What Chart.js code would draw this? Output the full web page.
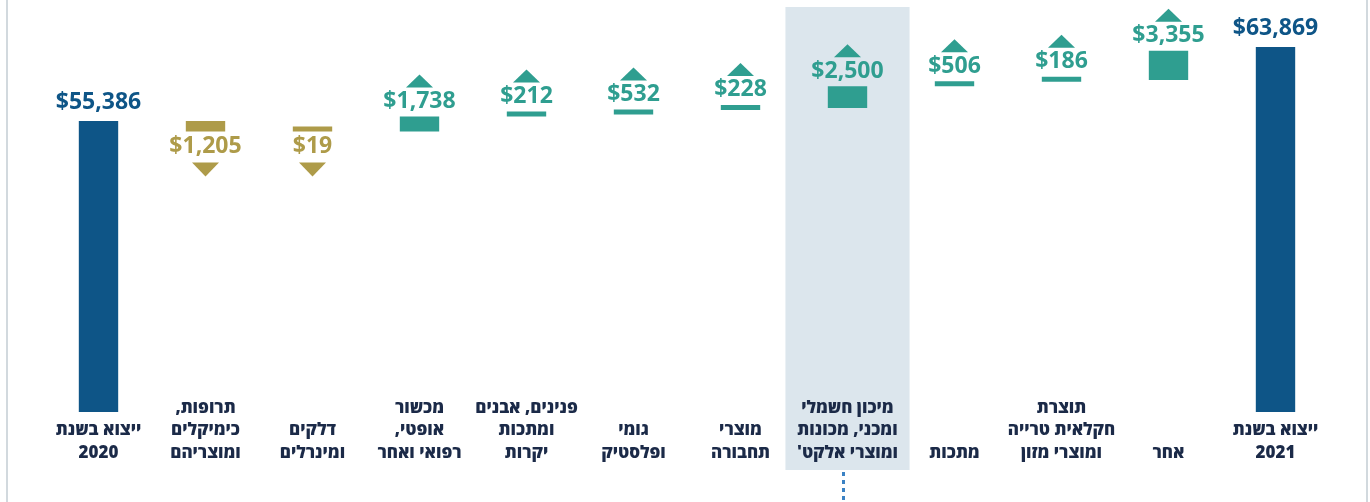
<!DOCTYPE html>
<html lang="he">
<head>
<meta charset="utf-8">
<title>ייצוא 2020-2021</title>
<script src="https://cdn.jsdelivr.net/npm/chart.js@4.4.1/dist/chart.umd.min.js"></script>
<style>
  html, body { margin: 0; padding: 0; background: #fff; }
  .frame {
    position: absolute; left: 6px; top: 0; width: 1358px; height: 502px;
    border-left: 2px solid #d2d9de; border-right: 2px solid #d2d9de;
  }
  #chart { position: absolute; left: 0; top: 0; }
</style>
</head>
<body>
<div class="frame"></div>
<canvas id="chart" width="1370" height="502"></canvas>
<script>
// categories (each one is a list of lines)
const categories = [
  ['ייצוא בשנת', '2020'],
  ['תרופות,', 'כימיקלים', 'ומוצריהם'],
  ['דלקים', 'ומינרלים'],
  ['מכשור', 'אופטי,', 'רפואי ואחר'],
  ['פנינים, אבנים', 'ומתכות', 'יקרות'],
  ['גומי', 'ופלסטיק'],
  ['מוצרי', 'תחבורה'],
  ['מיכון חשמלי', 'ומכני, מכונות', "ומוצרי אלקט'"],
  ['מתכות'],
  ['תוצרת', 'חקלאית טרייה', 'ומוצרי מזון'],
  ['אחר'],
  ['ייצוא בשנת', '2021']
];
const export2020 = 55386;
const export2021 = 63869;
// change per branch, in the order of the categories between the two totals
const changes = [-1205, -19, 1738, 212, 532, 228, 2500, 506, 186, 3355];
const highlightIndex = 7;

const totalColor = '#0e5587';
const upColor = '#2f9e90';
const downColor = '#ae9b49';
const labelColor = '#1b2a48';
const fontFamily = "'Open Sans', 'Liberation Sans', 'DejaVu Sans', sans-serif";

// build the floating bars from the running total
let running = export2020;
const barData = [export2020];
const kinds = ['total'];
changes.forEach(c => {
  barData.push([running, running + c]);
  kinds.push(c < 0 ? 'down' : 'up');
  running += c;
});
barData.push(export2021);
kinds.push('total');
const valueTexts = [export2020, ...changes, export2021].map(v => '$' + Math.abs(v).toLocaleString('en-US'));
const colors = kinds.map(k => k === 'total' ? totalColor : (k === 'up' ? upColor : downColor));

const highlightBand = {
  id: 'highlightBand',
  beforeDraw(chart) {
    const ctx = chart.ctx;
    const x = chart.scales.x;
    const step = x.width / categories.length;
    const cx = x.getPixelForValue(highlightIndex);
    ctx.save();
    ctx.fillStyle = '#dce6ed';
    ctx.fillRect(cx - step * 0.58, 7, step * 1.16, 463);
    ctx.strokeStyle = '#3b82c4';
    ctx.lineWidth = 3;
    ctx.setLineDash([4, 4]);
    ctx.beginPath();
    ctx.moveTo(cx - 4, 472);
    ctx.lineTo(cx - 4, 502);
    ctx.stroke();
    ctx.restore();
  }
};

// category names under the bars, bottom aligned
const categoryLabels = {
  id: 'categoryLabels',
  afterDraw(chart) {
    const ctx = chart.ctx;
    const x = chart.scales.x;
    const lineH = 22.5;
    const lastLine = chart.chartArea.bottom + 41;
    ctx.save();
    ctx.font = '800 17px ' + fontFamily;
    ctx.fillStyle = labelColor;
    ctx.textAlign = 'center';
    ctx.textBaseline = 'middle';
    ctx.direction = 'rtl';
    categories.forEach((lines, i) => {
      const px = x.getPixelForValue(i);
      lines.forEach((line, j) => {
        ctx.fillText(line, px, lastLine - (lines.length - 1 - j) * lineH);
      });
    });
    ctx.restore();
  }
};

const waterfallLabels = {
  id: 'waterfallLabels',
  afterDatasetsDraw(chart) {
    const ctx = chart.ctx;
    const meta = chart.getDatasetMeta(0);
    ctx.save();
    ctx.font = 'bold 23px ' + fontFamily;
    ctx.textAlign = 'center';
    ctx.textBaseline = 'middle';
    ctx.direction = 'ltr';
    meta.data.forEach((bar, i) => {
      const top = Math.min(bar.y, bar.base);
      const bottom = Math.max(bar.y, bar.base);
      const x = bar.x;
      ctx.fillStyle = colors[i];
      if (kinds[i] === 'total') {
        ctx.fillText(valueTexts[i], x, top - 18);
      } else if (kinds[i] === 'up') {
        ctx.fillText(valueTexts[i], x, top - 15);
        ctx.beginPath();
        ctx.moveTo(x - 13.5, top - 29);
        ctx.lineTo(x + 13.5, top - 29);
        ctx.lineTo(x, top - 42);
        ctx.closePath();
        ctx.fill();
      } else {
        ctx.fillText(valueTexts[i], x, bottom + 15);
        ctx.beginPath();
        ctx.moveTo(x - 13.5, bottom + 31);
        ctx.lineTo(x + 13.5, bottom + 31);
        ctx.lineTo(x, bottom + 45);
        ctx.closePath();
        ctx.fill();
      }
    });
    ctx.restore();
  }
};

new Chart(document.getElementById('chart'), {
  type: 'bar',
  data: {
    labels: categories.map(lines => lines.join(' ')),
    datasets: [{
      data: barData,
      backgroundColor: colors,
      borderWidth: 0,
      barPercentage: 0.46,
      categoryPercentage: 0.8,
      minBarLength: 5
    }]
  },
  options: {
    responsive: false,
    devicePixelRatio: 1,
    animation: false,
    layout: { padding: { left: 45, right: 41, top: 0, bottom: 90 } },
    plugins: {
      legend: { display: false },
      tooltip: { enabled: false }
    },
    scales: {
      x: {
        display: false
      },
      y: {
        display: false,
        min: 22000,
        max: 69250
      }
    }
  },
  plugins: [highlightBand, categoryLabels, waterfallLabels]
});
</script>
</body>
</html>
